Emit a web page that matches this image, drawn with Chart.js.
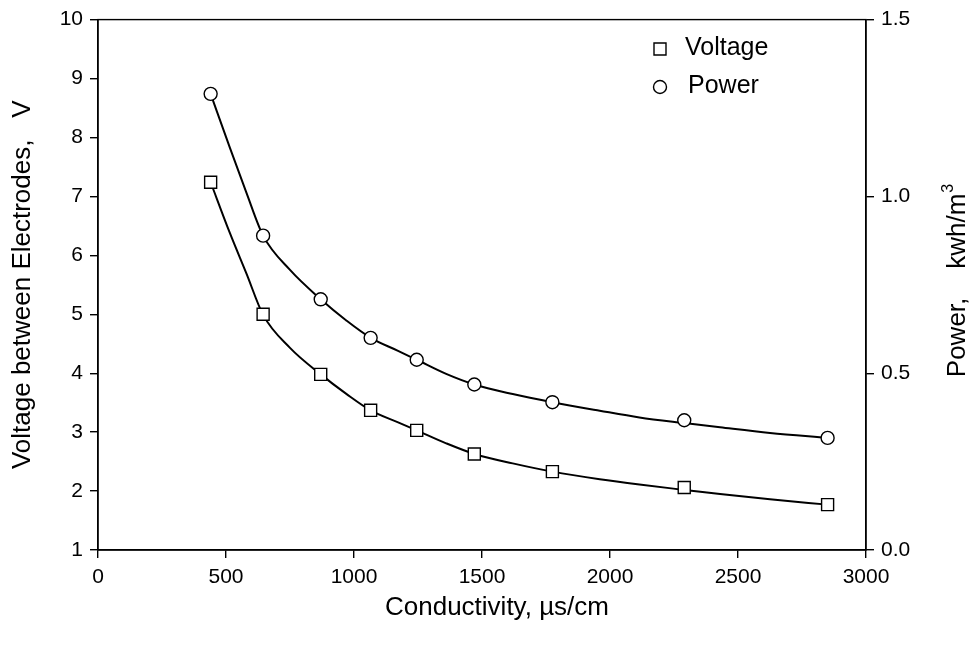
<!DOCTYPE html>
<html>
<head>
<meta charset="utf-8">
<script src="https://cdn.jsdelivr.net/npm/chart.js@4.4.1/dist/chart.umd.min.js"></script>
<style>
  html, body { margin: 0; padding: 0; background: #fff; }
  canvas { display: block; }
</style>
</head>
<body>
<canvas id="chart" width="971" height="651"></canvas>
<script>
// measured points (conductivity, uS/cm)
const conductivity = [440, 645, 870, 1065, 1245, 1470, 1775, 2290, 2850];
const voltage = [7.24, 5.00, 3.98, 3.37, 3.03, 2.63, 2.33, 2.06, 1.77];
const power = [1.290, 0.889, 0.709, 0.600, 0.538, 0.468, 0.418, 0.367, 0.317];

// fitted curves
const fitX = [440, 515, 580, 645, 750, 870, 970, 1065, 1170, 1245, 1360, 1470, 1620, 1775, 1960, 2115, 2290, 2430, 2625, 2850];
const voltageFit = [7.24, 6.38, 5.69, 4.99, 4.43, 3.98, 3.65, 3.37, 3.17, 3.03, 2.81, 2.63, 2.47, 2.33, 2.20, 2.11, 2.02, 1.95, 1.86, 1.77];
const powerFit = [1.290, 1.138, 1.010, 0.889, 0.792, 0.709, 0.649, 0.600, 0.564, 0.538, 0.498, 0.468, 0.441, 0.418, 0.394, 0.375, 0.359, 0.347, 0.331, 0.317];

const legendItems = ['Voltage', 'Power'];
const xTitle = 'Conductivity, \u00b5s/cm';
const yTitle = 'Voltage between Electrodes,   V';
const y2Title = ['Power,    kwh/m', '3'];

const FONT = '"Liberation Sans", Arial, Helvetica, sans-serif';

const toPoints = (xs, ys) => xs.map((x, i) => ({ x: x, y: ys[i] }));

// box round the plot, legend, x title and the right title (reads upward)
const framePlugin = {
	id: 'frame',
	afterDraw(chart) {
		const ctx = chart.ctx;
		const a = chart.chartArea;
		ctx.save();
		ctx.strokeStyle = '#000';
		ctx.lineWidth = 1.4;
		ctx.strokeRect(a.left, a.top, a.right - a.left, a.bottom - a.top);

		// legend
		ctx.fillStyle = '#fff';
		ctx.beginPath();
		ctx.rect(654, 43, 12, 12);
		ctx.fill();
		ctx.stroke();
		ctx.beginPath();
		ctx.arc(660, 87, 6.5, 0, Math.PI * 2);
		ctx.fill();
		ctx.stroke();

		ctx.fillStyle = '#000';
		ctx.font = '25px ' + FONT;
		ctx.textBaseline = 'middle';
		ctx.textAlign = 'left';
		ctx.fillText(legendItems[0], 685, 48);
		ctx.fillText(legendItems[1], 688, 86);

		// x title
		ctx.font = '26px ' + FONT;
		ctx.textAlign = 'center';
		ctx.textBaseline = 'alphabetic';
		ctx.fillText(xTitle, 497, 615);

		// right title
		ctx.translate(958, 281);
		ctx.rotate(-Math.PI / 2);
		ctx.font = '26px ' + FONT;
		const w1 = ctx.measureText(y2Title[0]).width;
		ctx.font = '16px ' + FONT;
		const w2 = ctx.measureText(y2Title[1]).width;
		const start = -(w1 + w2) / 2;
		ctx.textAlign = 'left';
		ctx.textBaseline = 'middle';
		ctx.font = '26px ' + FONT;
		ctx.fillText(y2Title[0], start, 0);
		ctx.font = '16px ' + FONT;
		ctx.fillText(y2Title[1], start + w1 + 1, -9);
		ctx.restore();
	}
};

const tickFont = { family: FONT, size: 21 };
const titleFont = { family: FONT, size: 26 };

new Chart(document.getElementById('chart').getContext('2d'), {
	type: 'scatter',
	data: {
		datasets: [
			{
				label: 'Voltage',
				data: toPoints(conductivity, voltage),
				yAxisID: 'y',
				pointStyle: 'rect',
				pointRadius: 8.5,
				pointBorderWidth: 1.4,
				pointBorderColor: '#000',
				pointBackgroundColor: '#fff',
				showLine: false
			},
			{
				label: 'Power',
				data: toPoints(conductivity, power),
				yAxisID: 'y2',
				pointStyle: 'circle',
				pointRadius: 6.5,
				pointBorderWidth: 1.4,
				pointBorderColor: '#000',
				pointBackgroundColor: '#fff',
				showLine: false
			},
			{
				label: 'Voltage fit',
				data: toPoints(fitX, voltageFit),
				yAxisID: 'y',
				showLine: true,
				borderColor: '#000',
				borderWidth: 2,
				pointRadius: 0,
				cubicInterpolationMode: 'monotone'
			},
			{
				label: 'Power fit',
				data: toPoints(fitX, powerFit),
				yAxisID: 'y2',
				showLine: true,
				borderColor: '#000',
				borderWidth: 2,
				pointRadius: 0,
				cubicInterpolationMode: 'monotone'
			}
		]
	},
	options: {
		responsive: false,
		animation: false,
		devicePixelRatio: 1,
		layout: { padding: { top: 15, left: 0, right: 0, bottom: 0 } },
		plugins: {
			legend: { display: false },
			tooltip: { enabled: false }
		},
		events: [],
		scales: {
			x: {
				type: 'linear',
				min: 0,
				max: 3000,
				afterFit: (s) => { s.height = 101; },
				ticks: { stepSize: 500, color: '#000', font: tickFont, padding: 7, maxRotation: 0, callback: (v) => String(v) },
				grid: { drawOnChartArea: false, drawTicks: true, tickLength: 8, color: '#000', lineWidth: 1.4 },
				border: { display: true, color: '#000', width: 1.4 },
				title: { display: false }
			},
			y: {
				type: 'linear',
				position: 'left',
				min: 1,
				max: 10,
				afterFit: (s) => { s.width = 98; },
				ticks: { stepSize: 1, color: '#000', font: tickFont, padding: 7 },
				grid: { drawOnChartArea: false, drawTicks: true, tickLength: 8, color: '#000', lineWidth: 1.4 },
				border: { display: true, color: '#000', width: 1.4 },
				title: { display: true, text: yTitle, color: '#000', font: titleFont, padding: { top: 7, bottom: 0 } }
			},
			y2: {
				type: 'linear',
				position: 'right',
				min: 0,
				max: 1.5,
				afterFit: (s) => { s.width = 105; },
				ticks: { stepSize: 0.5, color: '#000', font: tickFont, padding: 7, callback: (v) => v.toFixed(1) },
				grid: { drawOnChartArea: false, drawTicks: true, tickLength: 8, color: '#000', lineWidth: 1.4 },
				border: { display: true, color: '#000', width: 1.4 },
				title: { display: false }
			}
		}
	},
	plugins: [framePlugin]
});
</script>
</body>
</html>
